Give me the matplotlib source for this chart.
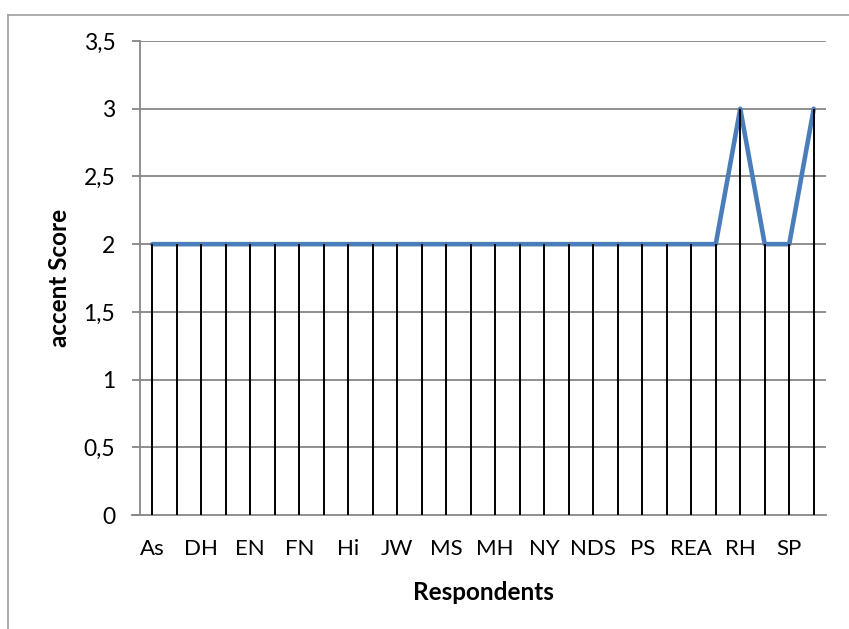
import matplotlib
matplotlib.use("Agg")
import matplotlib.pyplot as plt
from matplotlib.lines import Line2D
import numpy as np

# Respondent scores (28 respondents; every second one is labelled on the axis)
scores = [2, 2, 2, 2, 2, 2, 2, 2, 2, 2, 2, 2, 2, 2,
          2, 2, 2, 2, 2, 2, 2, 2, 2, 2, 3, 2, 2, 3]
tick_labels = ["As", "DH", "EN", "FN", "Hi", "JW", "MS", "MH", "NY", "NDS",
               "PS", "REA", "RH", "SP"]
y_ticks = [0, 0.5, 1, 1.5, 2, 2.5, 3, 3.5]
y_tick_labels = ["0", "0,5", "1", "1,5", "2", "2,5", "3", "3,5"]

plt.rcParams["font.family"] = ["Lato", "DejaVu Sans"]

fig = plt.figure(figsize=(8.49, 6.29), dpi=100)
ax = fig.add_axes([0.1649, 0.1812, 0.8080, 0.7536])

x = np.arange(len(scores))
grid_col = "#868686"

for yv in y_ticks[1:]:
    ax.axhline(yv, color=grid_col, lw=1.3, zorder=1)

ax.plot(x, scores, color="#4A7EBB", lw=3.3, solid_capstyle="round",
        solid_joinstyle="round", zorder=3)
ax.vlines(x, 0, scores, color="black", lw=1.4, zorder=4)

ax.set_xlim(-0.5, len(scores) - 0.5)
ax.set_ylim(0, 3.5)
ax.set_yticks(y_ticks)
ax.set_yticklabels(y_tick_labels, fontsize=16.5)
ax.set_xticks(x[::2])
ax.set_xticklabels(tick_labels, fontsize=16)

ax.tick_params(axis="y", length=5.8, width=1.3, color=grid_col, pad=12)
ax.tick_params(axis="x", length=0, pad=17)

for side in ("top", "right"):
    ax.spines[side].set_visible(False)
for side in ("left", "bottom"):
    ax.spines[side].set_color(grid_col)
    ax.spines[side].set_linewidth(1.3)
ax.spines["bottom"].set_bounds(-0.5 - 0.33, len(scores) - 0.5)

ax.set_xlabel("Respondents", fontsize=17.5, fontweight="bold", labelpad=16)
ax.set_ylabel("accent Score", fontsize=17.5, fontweight="bold")
ax.yaxis.set_label_coords(-0.1006, 0.5)

# Outer chart frame
fig.add_artist(Line2D([8 / 849, 8 / 849], [0, 1 - 15 / 629],
                      transform=fig.transFigure, color="#A0A0A0", lw=1.2))
fig.add_artist(Line2D([8 / 849, 1], [1 - 15 / 629, 1 - 15 / 629],
                      transform=fig.transFigure, color="#A0A0A0", lw=1.2))

fig.savefig("out.png", dpi=100)
